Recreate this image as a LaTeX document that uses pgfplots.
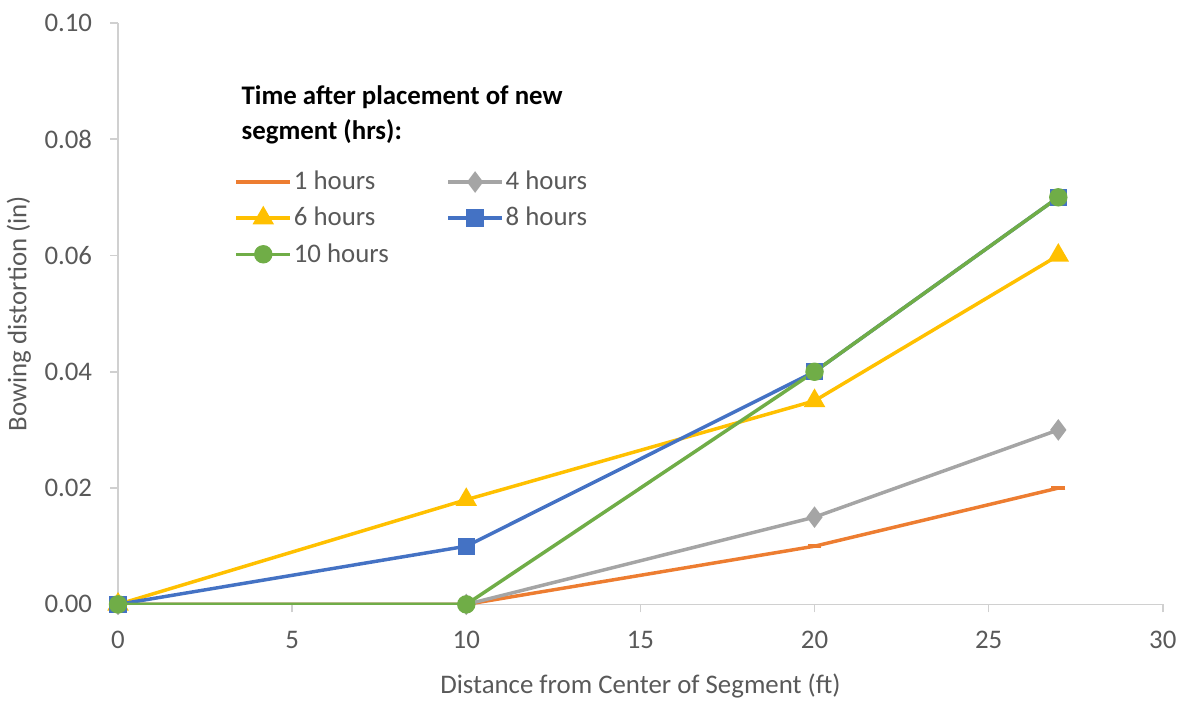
\documentclass[border=0pt]{standalone}
\usepackage{pgfplots}
\pgfplotsset{compat=1.18}
\usepackage{fontspec}
\setmainfont{Carlito}

\definecolor{c1}{HTML}{ED7D31}
\definecolor{c4}{HTML}{A5A5A5}
\definecolor{c6}{HTML}{FFC000}
\definecolor{c8}{HTML}{4472C4}
\definecolor{c10}{HTML}{70AD47}
\definecolor{txt}{HTML}{595959}
\definecolor{axl}{HTML}{D0D0D0}

\begin{document}
\begin{tikzpicture}
\begin{axis}[
  scale only axis,
  width=525.5pt, height=292.5pt,
  xmin=0, xmax=30, ymin=0, ymax=0.1,
  axis x line=bottom, axis y line=left,
  axis line style={axl, line width=0.8pt, -},
  xtick={0,5,...,30},
  ytick={0,0.02,...,0.1},
  major tick length=4pt,
  tick align=outside,
  tick style={axl, line width=0.8pt},
  yticklabel style={/pgf/number format/fixed, /pgf/number format/fixed zerofill, /pgf/number format/precision=2},
  /pgf/number format/assume math mode=true,
  ticklabel style={font=\fontsize{13.5}{16}\selectfont, text=txt},
  xticklabel style={yshift=-6pt},
  yticklabel style={xshift=-5.5pt},
  xlabel={Distance from Center of Segment (ft)},
  ylabel={Bowing distortion (in)},
  label style={font=\fontsize{13.5}{16}\selectfont, text=txt},
  xlabel style={yshift=-5.5pt},
  every axis plot/.append style={line width=1.75pt},
  legend columns=2,
  legend cell align=left,
  legend image code/.code={
    \draw[mark repeat=2,mark phase=2] plot coordinates {(0pt,0pt)(13.5pt,0pt)(27pt,0pt)};
  },
  legend style={draw=none, fill=none,
    at={(rel axis cs:0.1132,0.749)}, anchor=north west, xshift=-1pt,
    inner sep=0pt, row sep=5.3pt,
    font=\fontsize{13.5}{16}\selectfont, text=txt,
    nodes={inner sep=1pt},
    /tikz/every even column/.append style={column sep=28pt}},
]
\addplot[c1, mark=-, mark size=3.5pt] coordinates {(0,0) (10,0) (20,0.01) (27,0.02)};
\addlegendentry{1 hours}
\addplot[c4, mark=diamond*, mark size=4pt] coordinates {(0,0) (10,0) (20,0.015) (27,0.03)};
\addlegendentry{4 hours}
\addplot[c6, mark=triangle*, mark size=4.5pt] coordinates {(0,0) (10,0.018) (20,0.035) (27,0.06)};
\addlegendentry{6 hours}
\addplot[c8, mark=square*, mark size=3.5pt] coordinates {(0,0) (10,0.01) (20,0.04) (27,0.07)};
\addlegendentry{8 hours}
\addplot[c10, mark=*, mark size=3.75pt] coordinates {(0,0) (10,0) (20,0.04) (27,0.07)};
\addlegendentry{10 hours}
\node[anchor=north west, align=left, inner sep=0pt,
  font=\fontsize{13.5}{17.5}\selectfont\bfseries]
  at (rel axis cs:0.118,0.893) {Time after placement of new\\segment (hrs):};
\coordinate (O) at (rel axis cs:0,0);
\coordinate (T) at (rel axis cs:1,1);
\end{axis}
\useasboundingbox ([shift={(-58pt,-44pt)}]O) rectangle ([shift={(8pt,11.5pt)}]T);
\end{tikzpicture}
\end{document}
